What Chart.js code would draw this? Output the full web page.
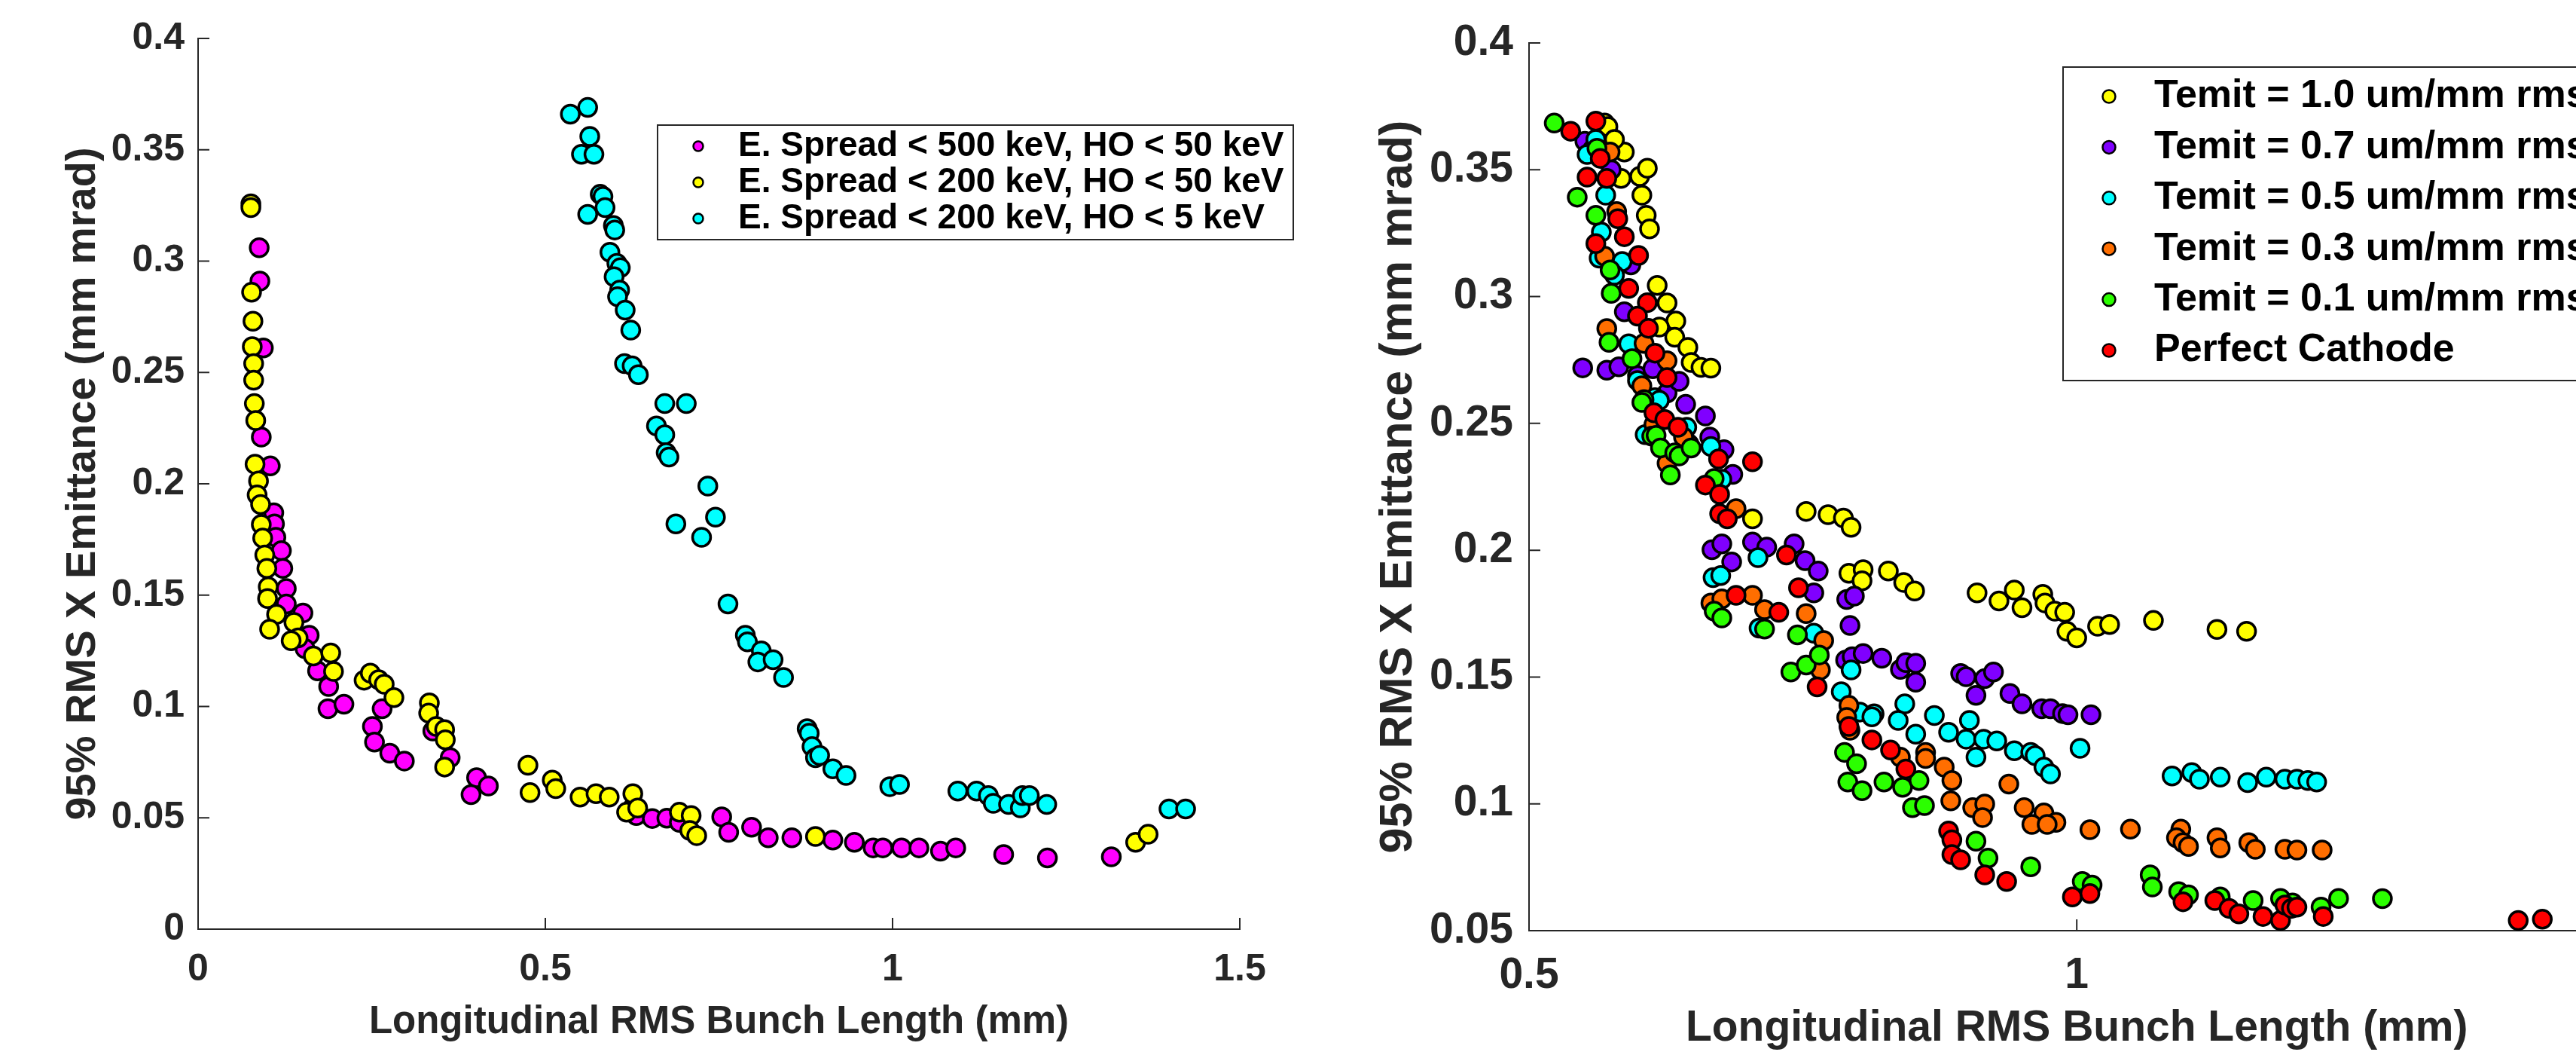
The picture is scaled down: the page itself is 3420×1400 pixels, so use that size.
<!DOCTYPE html>
<html>
<head>
<meta charset="utf-8">
<script src="https://cdn.jsdelivr.net/npm/chart.js@4/dist/chart.umd.min.js"></script>
<style>
    html, body { margin: 0; padding: 0; background: #fff; width: 3420px; height: 1400px; overflow: hidden; }
    canvas { position: absolute; top: 0; }
    #spread-chart { left: 0; }
    #temit-chart { left: 1750px; }
</style>
</head>
<body>
<canvas id="spread-chart" width="1750" height="1400"></canvas>
<canvas id="temit-chart" width="1800" height="1400"></canvas>
<script>
// left panel: [bunch length (mm), 95% rms x emittance (mm mrad)]
const spread500HO50 = [
    [0.088, 0.306], [0.089, 0.291], [0.094, 0.261], [0.091, 0.221], [0.104, 0.208], [0.109, 0.187],
    [0.110, 0.182], [0.112, 0.176], [0.120, 0.170], [0.122, 0.162], [0.127, 0.153], [0.127, 0.146],
    [0.151, 0.142], [0.160, 0.132], [0.154, 0.126], [0.172, 0.116], [0.188, 0.109], [0.187, 0.099],
    [0.210, 0.101], [0.265, 0.099], [0.251, 0.091], [0.254, 0.084], [0.276, 0.079], [0.297, 0.0755],
    [0.338, 0.089], [0.363, 0.077], [0.401, 0.068], [0.393, 0.0604], [0.418, 0.0643], [0.626, 0.0546],
    [0.631, 0.051], [0.654, 0.0497], [0.675, 0.0498], [0.693, 0.048], [0.754, 0.0504], [0.764, 0.0435],
    [0.797, 0.0458], [0.821, 0.041], [0.855, 0.041], [0.914, 0.040], [0.945, 0.039], [0.972, 0.0365],
    [0.986, 0.0365], [1.013, 0.0365], [1.038, 0.0365], [1.069, 0.035], [1.091, 0.0365], [1.160, 0.0335],
    [1.223, 0.032], [1.315, 0.0325],
];
const spread200HO50 = [
    [0.076, 0.3257], [0.076, 0.324], [0.077, 0.286], [0.079, 0.273], [0.078, 0.2616], [0.080, 0.254],
    [0.080, 0.2465], [0.081, 0.236], [0.083, 0.2284], [0.082, 0.2088], [0.087, 0.2013], [0.085, 0.195],
    [0.090, 0.1907], [0.091, 0.1817], [0.093, 0.1756], [0.096, 0.168], [0.099, 0.162], [0.101, 0.1537],
    [0.100, 0.1485], [0.113, 0.1414], [0.103, 0.1347], [0.138, 0.1377], [0.144, 0.1308], [0.134, 0.1295],
    [0.166, 0.1227], [0.191, 0.124], [0.195, 0.1157], [0.239, 0.1118], [0.248, 0.115], [0.260, 0.112],
    [0.268, 0.110], [0.282, 0.104], [0.333, 0.1016], [0.332, 0.097], [0.343, 0.091], [0.355, 0.0896],
    [0.356, 0.085], [0.355, 0.0728], [0.475, 0.0736], [0.478, 0.0613], [0.510, 0.0669], [0.515, 0.0631],
    [0.550, 0.0593], [0.573, 0.0608], [0.592, 0.0593], [0.626, 0.0608], [0.617, 0.0525], [0.633, 0.0544],
    [0.693, 0.0525], [0.710, 0.051], [0.708, 0.0443], [0.718, 0.042], [0.889, 0.0416], [1.350, 0.039],
    [1.368, 0.0426],
];
const spread200HO5 = [
    [0.536, 0.366], [0.561, 0.369], [0.564, 0.356], [0.552, 0.348], [0.570, 0.348], [0.561, 0.321],
    [0.579, 0.330], [0.583, 0.329], [0.586, 0.324], [0.598, 0.316], [0.600, 0.314], [0.593, 0.304],
    [0.603, 0.299], [0.608, 0.297], [0.599, 0.293], [0.607, 0.287], [0.604, 0.284], [0.615, 0.278],
    [0.623, 0.269], [0.614, 0.254], [0.625, 0.253], [0.634, 0.249], [0.672, 0.236], [0.703, 0.236],
    [0.660, 0.226], [0.672, 0.222], [0.674, 0.214], [0.678, 0.212], [0.734, 0.199], [0.745, 0.185],
    [0.688, 0.182], [0.725, 0.176], [0.763, 0.146], [0.788, 0.132], [0.791, 0.129], [0.811, 0.125],
    [0.806, 0.120], [0.828, 0.121], [0.843, 0.113], [0.877, 0.090], [0.880, 0.088], [0.884, 0.082],
    [0.889, 0.077], [0.895, 0.078], [0.914, 0.072], [0.933, 0.069], [0.996, 0.064], [1.010, 0.065],
    [1.094, 0.062], [1.121, 0.062], [1.138, 0.060], [1.145, 0.0565], [1.167, 0.056], [1.184, 0.0545],
    [1.187, 0.060], [1.197, 0.060], [1.222, 0.056], [1.398, 0.054], [1.422, 0.054],
];

// right panel
const temit10 = [
    [0.569, 0.3684], [0.572, 0.367], [0.587, 0.357], [0.584, 0.3466], [0.601, 0.3474], [0.608, 0.3506],
    [0.607, 0.332], [0.610, 0.3267], [0.617, 0.3044], [0.634, 0.2904], [0.633, 0.284], [0.645, 0.280],
    [0.648, 0.274], [0.657, 0.2721], [0.666, 0.2718], [0.619, 0.288], [0.704, 0.2124], [0.753, 0.2153],
    [0.773, 0.214], [0.787, 0.2127], [0.794, 0.209], [0.792, 0.1909], [0.805, 0.1923], [0.804, 0.1879],
    [0.828, 0.1918], [0.842, 0.1873], [0.852, 0.1839], [0.909, 0.1832], [0.929, 0.180], [0.943, 0.1843],
    [0.950, 0.1773], [0.969, 0.1826], [0.971, 0.1792], [0.980, 0.176], [0.989, 0.1755], [0.991, 0.168],
    [1.000, 0.1654], [1.019, 0.170], [1.030, 0.1707], [1.070, 0.1723], [1.128, 0.1688], [1.155, 0.168],
    [0.578, 0.362], [0.603, 0.340], [0.626, 0.2975],
];
const temit07 = [
    [0.551, 0.3612], [0.549, 0.2719], [0.571, 0.271], [0.582, 0.2723], [0.587, 0.294], [0.599, 0.2688],
    [0.613, 0.2716], [0.626, 0.262], [0.637, 0.2666], [0.643, 0.2575], [0.661, 0.2529], [0.665, 0.2446],
    [0.678, 0.2396], [0.686, 0.2299], [0.667, 0.2002], [0.676, 0.2025], [0.685, 0.1954], [0.704, 0.2032],
    [0.717, 0.2012], [0.742, 0.2025], [0.752, 0.1959], [0.764, 0.1918], [0.760, 0.1832], [0.790, 0.1806],
    [0.797, 0.1819], [0.793, 0.1703], [0.789, 0.1567], [0.795, 0.158], [0.805, 0.1593], [0.822, 0.1574],
    [0.839, 0.153], [0.844, 0.1557], [0.853, 0.1554], [0.853, 0.148], [0.894, 0.1514], [0.899, 0.1501],
    [0.908, 0.1428], [0.916, 0.1494], [0.924, 0.152], [0.939, 0.1435], [0.950, 0.1394], [0.968, 0.1375],
    [0.976, 0.1375], [0.987, 0.1356], [0.992, 0.1351], [1.013, 0.1351],
    [0.558, 0.358], [0.575, 0.350], [0.593, 0.3125],
];
const temit05 = [
    [0.553, 0.356], [0.570, 0.340], [0.566, 0.3254], [0.564, 0.3152], [0.585, 0.3138], [0.591, 0.2814],
    [0.599, 0.2669], [0.615, 0.2601], [0.606, 0.2456], [0.619, 0.2591], [0.644, 0.2485], [0.666, 0.2409],
    [0.676, 0.228], [0.668, 0.1892], [0.675, 0.190], [0.709, 0.1971], [0.710, 0.1693], [0.760, 0.1673],
    [0.785, 0.1442], [0.794, 0.1528], [0.802, 0.1362], [0.815, 0.1355], [0.843, 0.1394], [0.837, 0.1329],
    [0.853, 0.1275], [0.870, 0.1348], [0.883, 0.1282], [0.902, 0.1329], [0.899, 0.1255], [0.908, 0.1184],
    [0.915, 0.1255], [0.927, 0.1248], [0.943, 0.1209], [0.958, 0.1203], [0.962, 0.119], [0.970, 0.1145],
    [0.976, 0.1118], [1.003, 0.1219], [1.087, 0.111], [1.105, 0.1123], [1.112, 0.1097], [1.131, 0.1105],
    [1.156, 0.1084], [1.173, 0.1105], [1.190, 0.1097], [1.201, 0.1097], [1.211, 0.1092], [1.219, 0.1086],
    [0.813, 0.1343], [0.561, 0.362], [0.578, 0.3085],
];
const temit03 = [
    [0.574, 0.357], [0.569, 0.3159], [0.571, 0.2874], [0.603, 0.2648], [0.626, 0.2747], [0.646, 0.2419],
    [0.641, 0.2446], [0.626, 0.2343], [0.689, 0.2164], [0.666, 0.1792], [0.676, 0.1808], [0.704, 0.1822],
    [0.715, 0.1766], [0.753, 0.175], [0.769, 0.1644], [0.766, 0.1528], [0.792, 0.1388], [0.790, 0.1341],
    [0.793, 0.129], [0.862, 0.1203], [0.839, 0.1184], [0.862, 0.1179], [0.879, 0.1145], [0.886, 0.1092],
    [0.885, 0.1012], [0.905, 0.0985], [0.916, 0.0999], [0.914, 0.0946], [0.938, 0.1078], [0.952, 0.0985],
    [0.970, 0.0964], [0.959, 0.0919], [0.981, 0.0927], [0.973, 0.0919], [1.012, 0.0898], [1.049, 0.090],
    [1.095, 0.090], [1.091, 0.0866], [1.097, 0.0847], [1.102, 0.0832], [1.128, 0.0866], [1.131, 0.0826],
    [1.157, 0.0847], [1.163, 0.0821], [1.190, 0.0821], [1.201, 0.0818], [1.224, 0.0818],
    [0.580, 0.3335], [0.605, 0.2815], [0.614, 0.2495],
];
const temit01 = [
    [0.523, 0.3684], [0.544, 0.3392], [0.561, 0.332], [0.574, 0.3105], [0.575, 0.3013], [0.573, 0.282],
    [0.594, 0.2755], [0.605, 0.2594], [0.603, 0.2583], [0.612, 0.245], [0.616, 0.2453], [0.620, 0.2403],
    [0.633, 0.2384], [0.637, 0.2372], [0.648, 0.2403], [0.629, 0.2297], [0.669, 0.2283], [0.669, 0.176],
    [0.676, 0.1733], [0.715, 0.1689], [0.745, 0.1666], [0.739, 0.152], [0.753, 0.1547], [0.765, 0.1587],
    [0.788, 0.1203], [0.799, 0.1158], [0.791, 0.1086], [0.804, 0.1052], [0.824, 0.1086], [0.841, 0.1065],
    [0.856, 0.1092], [0.850, 0.0985], [0.861, 0.0993], [0.908, 0.0853], [0.919, 0.0786], [0.958, 0.0752],
    [1.005, 0.0694], [1.014, 0.068], [1.067, 0.072], [1.069, 0.0672], [1.093, 0.0654], [1.102, 0.0641],
    [1.131, 0.0633], [1.161, 0.0619], [1.186, 0.0627], [1.197, 0.0609], [1.223, 0.0593], [1.239, 0.0627],
    [1.279, 0.0626], [0.562, 0.3585],
];
const perfectCathode = [
    [0.538, 0.3652], [0.561, 0.3692], [0.565, 0.3545], [0.553, 0.3471], [0.571, 0.3466], [0.581, 0.3307],
    [0.587, 0.3236], [0.561, 0.3209], [0.600, 0.3162], [0.591, 0.3032], [0.608, 0.2976], [0.599, 0.2923],
    [0.609, 0.2875], [0.615, 0.2777], [0.626, 0.2681], [0.614, 0.2542], [0.624, 0.2515], [0.636, 0.2485],
    [0.673, 0.236], [0.704, 0.2349], [0.661, 0.2257], [0.674, 0.222], [0.674, 0.2144], [0.681, 0.2124],
    [0.735, 0.1981], [0.746, 0.1852], [0.689, 0.1822], [0.728, 0.1755], [0.763, 0.1461], [0.792, 0.1305],
    [0.813, 0.1252], [0.830, 0.1212], [0.844, 0.1137], [0.883, 0.0893], [0.886, 0.0858], [0.886, 0.080],
    [0.894, 0.0779], [0.916, 0.072], [0.936, 0.0694], [0.996, 0.0633], [1.012, 0.0646], [1.097, 0.0614],
    [1.126, 0.0619], [1.139, 0.0588], [1.148, 0.0566], [1.170, 0.0556], [1.186, 0.054], [1.190, 0.0601],
    [1.196, 0.0588], [1.201, 0.0593], [1.225, 0.0556], [1.403, 0.054], [1.425, 0.0545],
];

const leftSeries = [
    { label: "E. Spread < 500 keV, HO < 50 keV", color: "#ff00ff", data: spread500HO50 },
    { label: "E. Spread < 200 keV, HO < 50 keV", color: "#ffff00", data: spread200HO50 },
    { label: "E. Spread < 200 keV, HO < 5 keV", color: "#00ffff", data: spread200HO5 },
];
const rightSeries = [
    { label: "Temit = 1.0 um/mm rms", color: "#ffff00", data: temit10 },
    { label: "Temit = 0.7 um/mm rms", color: "#8000ff", data: temit07 },
    { label: "Temit = 0.5 um/mm rms", color: "#00ffff", data: temit05 },
    { label: "Temit = 0.3 um/mm rms", color: "#ff6e00", data: temit03 },
    { label: "Temit = 0.1 um/mm rms", color: "#2bff00", data: temit01 },
    { label: "Perfect Cathode", color: "#ff0000", data: perfectCathode },
];

const xTitle = "Longitudinal RMS Bunch Length (mm)";
const yTitle = "95% RMS X Emittance (mm mrad)";

const axisColor = "#262626";
const fontFamily = "'Liberation Sans', Arial, Helvetica, sans-serif";
Chart.defaults.font.family = fontFamily;
Chart.defaults.color = axisColor;

const tickLabel = v => String(+Number(v).toFixed(2));

// matlab style: ticks point into the plot area
const inwardTicks = {
    id: "inwardTicks",
    beforeDatasetsDraw(chart) {
        const { ctx, chartArea: area, scales: { x, y } } = chart;
        ctx.save();
        ctx.strokeStyle = axisColor;
        ctx.lineWidth = 2;
        ctx.beginPath();
        x.ticks.forEach(t => {
            const px = x.getPixelForValue(t.value);
            ctx.moveTo(px, area.bottom);
            ctx.lineTo(px, area.bottom - 15);
        });
        y.ticks.forEach(t => {
            const py = y.getPixelForValue(t.value);
            ctx.moveTo(area.left, py);
            ctx.lineTo(area.left + 15, py);
        });
        ctx.stroke();
        ctx.restore();
    },
};

// legend box drawn inside the axes like matlab does
const boxLegend = {
    id: "boxLegend",
    afterDraw(chart, args, o) {
        const ctx = chart.ctx;
        ctx.save();
        ctx.fillStyle = "#fff";
        ctx.fillRect(o.left, o.top, o.width, o.height);
        ctx.strokeStyle = axisColor;
        ctx.lineWidth = 2;
        ctx.strokeRect(o.left, o.top, o.width, o.height);
        ctx.font = `bold ${o.fontSize}px ${fontFamily}`;
        ctx.textBaseline = "middle";
        chart.data.datasets.forEach((ds, i) => {
            const y = o.rowTop + i * o.rowGap;
            ctx.beginPath();
            ctx.arc(o.markerX, y, o.markerRadius, 0, 2 * Math.PI);
            ctx.fillStyle = ds.backgroundColor;
            ctx.fill();
            ctx.lineWidth = 2.5;
            ctx.strokeStyle = "#000";
            ctx.stroke();
            ctx.fillStyle = "#000";
            ctx.fillText(ds.label, o.textX, y);
        });
        ctx.restore();
    },
};

function makeDatasets(series) {
    const n = series.length;
    return series.map((s, i) => ({
        label: s.label,
        data: s.data.map(([x, y]) => ({ x, y })),
        backgroundColor: s.color,
        borderColor: "#000",
        borderWidth: 3.5,
        pointRadius: 12,
        pointHoverRadius: 12,
        clip: false,
        order: n - 1 - i, // later series painted on top
    }));
}

function makeChart(canvasId, series, cfg) {
    return new Chart(document.getElementById(canvasId), {
        type: "scatter",
        data: { datasets: makeDatasets(series) },
        plugins: [inwardTicks, boxLegend],
        options: {
            responsive: false,
            animation: false,
            devicePixelRatio: 1,
            layout: { padding: cfg.padding },
            scales: {
                x: {
                    type: "linear",
                    min: cfg.xMin,
                    max: cfg.xMax,
                    afterFit: scale => { scale.height = cfg.xAxisHeight; },
                    afterBuildTicks: scale => {
                        scale.ticks = cfg.xTicks.map(value => ({ value }));
                    },
                    grid: { display: false, drawTicks: false },
                    border: { display: true, color: axisColor, width: 2 },
                    ticks: {
                        callback: tickLabel,
                        padding: cfg.xTickPadding,
                        maxRotation: 0,
                        font: { size: cfg.tickSize, weight: "bold" },
                        color: axisColor,
                    },
                    title: {
                        display: true,
                        text: xTitle,
                        color: axisColor,
                        font: { size: cfg.xTitleSize, weight: "bold" },
                        padding: { top: 0, bottom: cfg.xTitlePad },
                    },
                },
                y: {
                    type: "linear",
                    min: cfg.yMin,
                    max: cfg.yMax,
                    afterFit: scale => { scale.width = cfg.yAxisWidth; },
                    afterBuildTicks: scale => {
                        scale.ticks = cfg.yTicks.map(value => ({ value }));
                    },
                    grid: { display: false, drawTicks: false },
                    border: { display: true, color: axisColor, width: 2 },
                    ticks: {
                        callback: tickLabel,
                        padding: cfg.yTickPadding,
                        font: { size: cfg.tickSize, weight: "bold" },
                        color: axisColor,
                    },
                    title: {
                        display: true,
                        text: yTitle,
                        color: axisColor,
                        font: { size: cfg.yTitleSize, weight: "bold" },
                        padding: { top: cfg.yTitlePad, bottom: 0 },
                    },
                },
            },
            plugins: {
                legend: { display: false },
                tooltip: { enabled: false },
                boxLegend: cfg.legend,
            },
        },
    });
}

const leftXTicks = [0, 0.5, 1, 1.5];
const leftYTicks = [0, 0.05, 0.1, 0.15, 0.2, 0.25, 0.3, 0.35, 0.4];
const rightXTicks = [0.5, 1, 1.5];
const rightYTicks = [0.05, 0.1, 0.15, 0.2, 0.25, 0.3, 0.35, 0.4];

makeChart("spread-chart", leftSeries, {
    padding: { left: 0, top: 51, right: 104, bottom: 0 },
    xMin: 0, xMax: 1.5, yMin: 0, yMax: 0.4,
    xTicks: leftXTicks, yTicks: leftYTicks,
    xAxisHeight: 167, yAxisWidth: 263,
    tickSize: 50, xTickPadding: 24, yTickPadding: 18,
    xTitleSize: 51, xTitlePad: 12,
    yTitleSize: 56, yTitlePad: 77,
    legend: {
        left: 873, top: 166, width: 844, height: 152,
        markerX: 927, markerRadius: 6.5, textX: 980,
        rowTop: 194, rowGap: 48, fontSize: 46,
    },
});

makeChart("temit-chart", rightSeries, {
    padding: { left: 0, top: 57, right: 64, bottom: 0 },
    xMin: 0.5, xMax: 1.5, yMin: 0.05, yMax: 0.4,
    xTicks: rightXTicks, yTicks: rightYTicks,
    xAxisHeight: 165, yAxisWidth: 280,
    tickSize: 57, xTickPadding: 26, yTickPadding: 21,
    xTitleSize: 57, xTitlePad: 1,
    yTitleSize: 61, yTitlePad: 71,
    legend: {
        left: 989, top: 89, width: 731, height: 416,
        markerX: 1050, markerRadius: 8.5, textX: 1110,
        rowTop: 128, rowGap: 67.4, fontSize: 52,
    },
});
</script>
</body>
</html>
